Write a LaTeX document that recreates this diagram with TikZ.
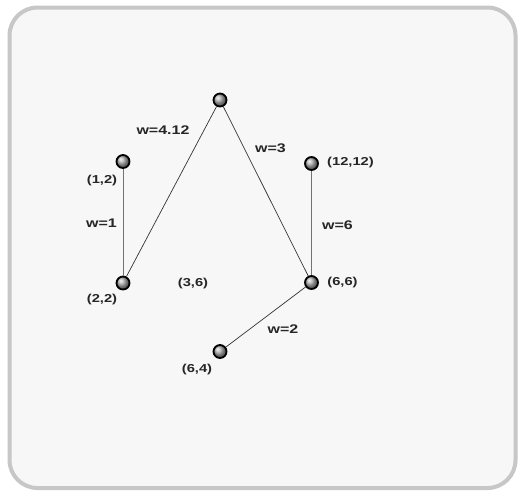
\documentclass[tikz,border=0pt]{standalone}
\usepackage{fontspec}
\setmainfont{Liberation Sans}[FakeStretch=1.28]
\begin{document}
\begin{tikzpicture}[x=1pt,y=-1pt,
  vert/.style={circle,minimum size=13pt,inner sep=0pt,draw=black,line width=1.8pt,ball color=gray!65},
  wlab/.style={font=\fontsize{12.5}{12.5}\selectfont\bfseries,text=black!85,inner sep=0pt},
  clab/.style={font=\fontsize{11.5}{11.5}\selectfont\bfseries,text=black!85,inner sep=0pt},
  dedge/.style={draw=black!80,line width=0.7pt},
  vedge/.style={draw=black!55,line width=0.9pt}]
\useasboundingbox (0,0) rectangle (518,491);
\fill[white] (0,0) rectangle (518,491);
\draw[draw=black!22,line width=4pt,fill=black!3,rounded corners=28pt] (9.5,7.5) rectangle (515.5,488);
\node[vert] (t) at (220,100) {};
\node[vert] (a) at (123,161.5) {};
\node[vert] (b) at (123,283) {};
\node[vert] (c) at (311.5,163.5) {};
\node[vert] (d) at (311.5,282.5) {};
\node[vert] (e) at (220,351.5) {};
\draw[vedge] (a) -- (b);
\draw[dedge] (b) -- (t);
\draw[dedge] (t) -- (d);
\draw[vedge] (c) -- (d);
\draw[dedge] (d) -- (e);
\node[clab] (la) at (102,180.5) {(1,2)};
\node[clab] (lb) at (102,300) {(2,2)};
\node[clab] (l36) at (193,284) {(3,6)};
\node[clab] (lc) at (350.5,162.5) {(12,12)};
\node[clab] (ld) at (342.5,283) {(6,6)};
\node[clab] (le) at (197,370) {(6,4)};
\node[wlab] (w1) at (163,130) {w=4.12};
\node[wlab] (w2) at (270.5,148) {w=3};
\node[wlab] (w3) at (101.5,223) {w=1};
\node[wlab] (w4) at (337.5,225) {w=6};
\node[wlab] (w5) at (283,329.5) {w=2};
\end{tikzpicture}
\end{document}
